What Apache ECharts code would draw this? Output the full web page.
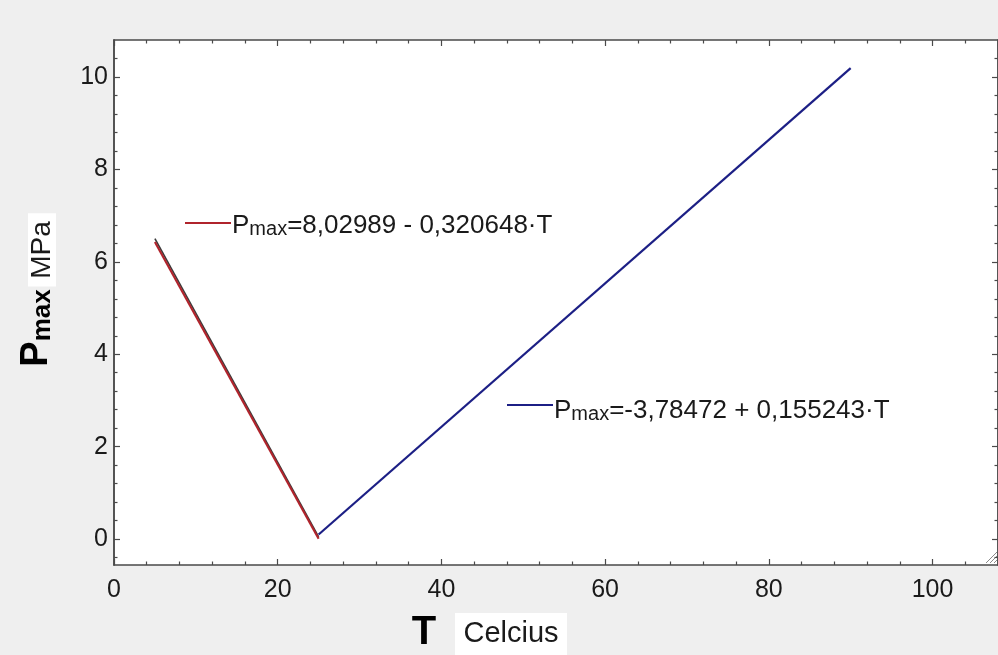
<!DOCTYPE html>
<html>
<head>
<meta charset="utf-8">
<title>Pmax vs T</title>
<script src="https://cdn.jsdelivr.net/npm/echarts@6/dist/echarts.min.js"></script>
<style>
  html, body { margin: 0; padding: 0; background: #efefef; }
  #chart { width: 998px; height: 655px; }
</style>
</head>
<body>
<div id="chart"></div>
<script>
// data
var dataPoints = [[5, 6.5], [25, 0.05]];          // thin dark line under the red fit
var redFit = [[5, 6.43], [25, 0.01]];             // Pmax=8,02989 - 0,320648·T
var blueFit = [[25, 0.1], [90, 10.19]];           // Pmax=-3,78472 + 0,155243·T
var xTicks = [0, 20, 40, 60, 80, 100];
var yTicks = [0, 2, 4, 6, 8, 10];
var redLabel = "=8,02989 - 0,320648·T";
var blueLabel = "=-3,78472 + 0,155243·T";

var yMin = -0.56, yMax = 10.8;
// minor ticks every 0.4 on y
var yMinor = [];
for (var v = -0.4; v < yMax; v += 0.4) {
  var r = Math.round(v * 10) / 10;
  if (Math.abs(r / 2 - Math.round(r / 2)) > 1e-6) yMinor.push(r);
}

var axisColor = "#4a4a4a";
var font = "Liberation Sans, Arial, sans-serif";

var myChart = echarts.init(document.getElementById("chart"));

function tickAxisY(pos, vals, len, labels) {
  return {
    type: "value",
    position: pos,
    min: yMin,
    max: yMax,
    axisLine: { show: true, onZero: false, lineStyle: { color: axisColor, width: 1.5 } },
    axisTick: { show: true, inside: true, length: len, customValues: vals, lineStyle: { color: axisColor, width: 1.2 } },
    axisLabel: labels ? { show: true, customValues: yTicks, fontSize: 25, fontFamily: font, color: "#1a1a1a", margin: 6 } : { show: false },
    splitLine: { show: false }
  };
}

function tickAxisX(pos, labels) {
  return {
    type: "value",
    position: pos,
    min: 0,
    max: 108,
    interval: 20,
    axisLine: { show: true, onZero: false, lineStyle: { color: axisColor, width: 1.5 } },
    axisTick: { show: true, inside: true, length: 6, lineStyle: { color: axisColor, width: 1.2 } },
    minorTick: { show: true, splitNumber: 5, length: 3.5, lineStyle: { color: axisColor, width: 1.2 } },
    axisLabel: labels ? { show: true, customValues: xTicks, fontSize: 25, fontFamily: font, color: "#1a1a1a", margin: 13 } : { show: false },
    splitLine: { show: false }
  };
}

function richEq(main) {
  return {
    text: "{p|P}{s|max}{t|" + main + "}",
    rich: {
      p: { fontSize: 26, fontFamily: font, fill: "#1a1a1a", lineHeight: 30, verticalAlign: "bottom" },
      s: { fontSize: 20, fontFamily: font, fill: "#1a1a1a", lineHeight: 18, verticalAlign: "bottom" },
      t: { fontSize: 26, fontFamily: font, fill: "#1a1a1a", lineHeight: 30, verticalAlign: "bottom" }
    },
    verticalAlign: "middle",
    align: "left"
  };
}

var option = {
  backgroundColor: "#efefef",
  animation: false,
  grid: {
    left: 114, top: 40, right: 0, bottom: 90,
    show: true, backgroundColor: "#ffffff", borderWidth: 0
  },
  xAxis: [tickAxisX("bottom", true), tickAxisX("top", false)],
  yAxis: [
    tickAxisY("left", yTicks, 6, true),
    tickAxisY("left", yMinor, 3.5, false),
    tickAxisY("right", yTicks, 6, false),
    tickAxisY("right", yMinor, 3.5, false)
  ],
  series: [
    {
      type: "line", data: dataPoints, symbol: "none",
      lineStyle: { color: "#3a3a3a", width: 1.6 }, z: 1
    },
    {
      type: "line", data: redFit, symbol: "none",
      lineStyle: { color: "#b0242c", width: 2.2 }, z: 2
    },
    {
      type: "line", data: blueFit, symbol: "none",
      lineStyle: { color: "#1c1f85", width: 2.2 }, z: 2
    }
  ],
  graphic: [
    // equation labels
    { type: "line", shape: { x1: 185, y1: 223, x2: 231, y2: 223 }, style: { stroke: "#b0242c", lineWidth: 2 } },
    { type: "text", x: 232, y: 224, style: richEq(redLabel) },
    { type: "line", shape: { x1: 507, y1: 405, x2: 553, y2: 405 }, style: { stroke: "#1c1f85", lineWidth: 2 } },
    { type: "text", x: 554, y: 409, style: richEq(blueLabel) },
    // x axis title
    { type: "text", x: 424, y: 633, style: { text: "T", font: "bold 40px " + font, fill: "#000", align: "center", verticalAlign: "middle" } },
    { type: "rect", shape: { x: 455, y: 613, width: 112, height: 42 }, style: { fill: "#ffffff" } },
    { type: "text", x: 511, y: 634, style: { text: "Celcius", font: "29px " + font, fill: "#1a1a1a", align: "center", verticalAlign: "middle" } },
    // y axis title, rotated
    {
      type: "text", x: 36, y: 290, rotation: Math.PI / 2,
      style: {
        text: "{p|P}{s|max}{g| }{m| MPa }",
        rich: {
          p: { fontSize: 38, fontWeight: "bold", fontFamily: font, fill: "#000", lineHeight: 40, verticalAlign: "bottom" },
          s: { fontSize: 26, fontWeight: "bold", fontFamily: font, fill: "#000", lineHeight: 24, verticalAlign: "bottom" },
          g: { fontSize: 10, lineHeight: 10, verticalAlign: "bottom" },
          m: { fontSize: 28, fontFamily: font, fill: "#1a1a1a", lineHeight: 38, backgroundColor: "#ffffff", verticalAlign: "bottom" }
        },
        align: "center",
        verticalAlign: "middle"
      }
    },
    // window resize grip
    { type: "line", shape: { x1: 986, y1: 563, x2: 997, y2: 552 }, style: { stroke: "#8a8a8a", lineWidth: 1 } },
    { type: "line", shape: { x1: 990, y1: 563, x2: 997, y2: 556 }, style: { stroke: "#8a8a8a", lineWidth: 1 } },
    { type: "line", shape: { x1: 994, y1: 563, x2: 997, y2: 560 }, style: { stroke: "#8a8a8a", lineWidth: 1 } }
  ]
};

myChart.setOption(option);
</script>
</body>
</html>
